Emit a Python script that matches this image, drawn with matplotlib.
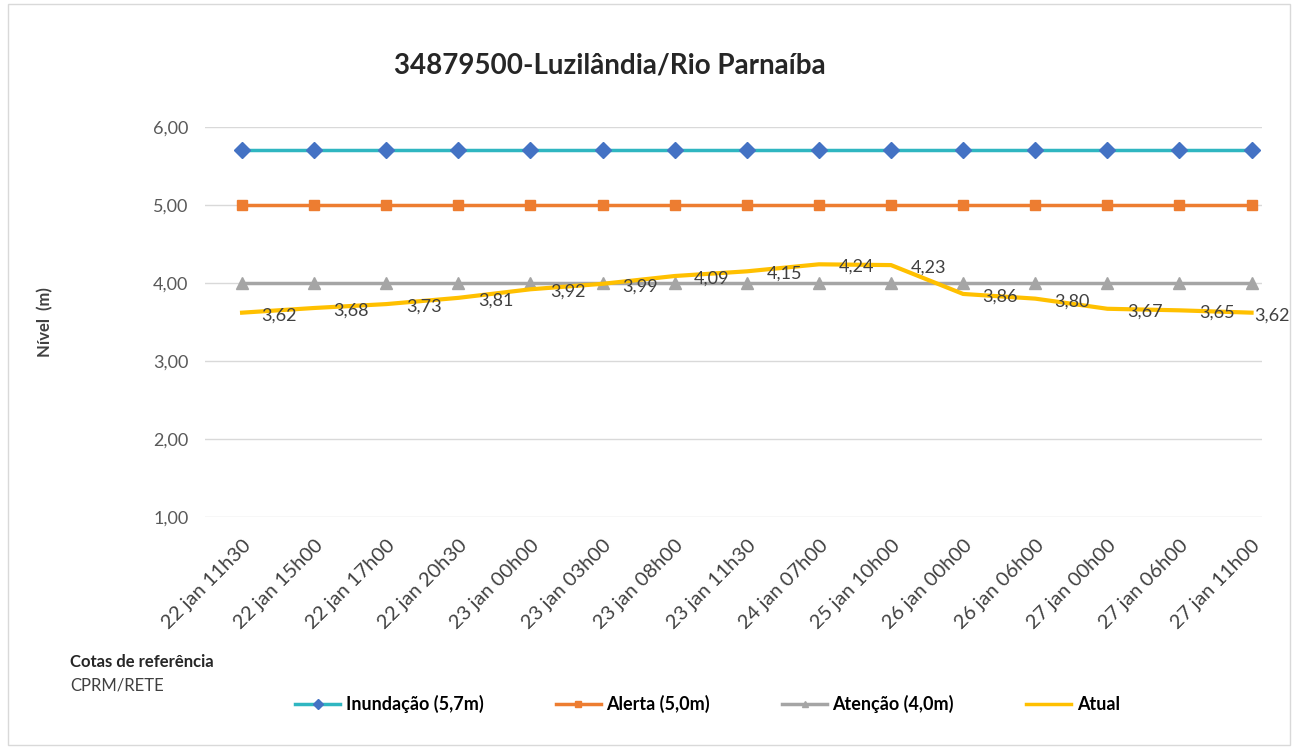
import matplotlib.pyplot as plt
from matplotlib.patches import Rectangle

plt.rcParams['font.family'] = ['Lato', 'DejaVu Sans']

# dados
datas = ['22 jan 11h30', '22 jan 15h00', '22 jan 17h00', '22 jan 20h30', '23 jan 00h00',
         '23 jan 03h00', '23 jan 08h00', '23 jan 11h30', '24 jan 07h00', '25 jan 10h00',
         '26 jan 00h00', '26 jan 06h00', '27 jan 00h00', '27 jan 06h00', '27 jan 11h00']
inundacao = [5.7] * 15
alerta = [5.0] * 15
atencao = [4.0] * 15
atual = [3.62, 3.68, 3.73, 3.81, 3.92, 3.99, 4.09, 4.15, 4.24, 4.23, 3.86, 3.80, 3.67, 3.65, 3.62]

fig = plt.figure(figsize=(12.98, 7.49), dpi=100)
ax = fig.add_axes([0.158, 0.3097, 0.814, 0.5207])
x = list(range(len(datas)))

ax.plot(x, inundacao, color='#2FB6C1', linewidth=2.5, marker='D', markersize=8,
        markerfacecolor='#4472C4', markeredgecolor='#4472C4', label='Inundação (5,7m)')
ax.plot(x, alerta, color='#ED7D31', linewidth=2.5, marker='s', markersize=7,
        markerfacecolor='#ED7D31', markeredgecolor='#ED7D31', label='Alerta (5,0m)')
ax.plot(x, atencao, color='#A5A5A5', linewidth=2.5, marker='^', markersize=8,
        markerfacecolor='#A5A5A5', markeredgecolor='#A5A5A5', label='Atenção (4,0m)')
ax.plot(x, atual, color='#FFC000', linewidth=3, label='Atual')

# rotulos dos valores (o ultimo fica encostado no ponto, como no original)
for xi, v in zip(x, atual):
    dx = 14 if xi < len(x) - 1 else 2
    ax.annotate(f'{v:.2f}'.replace('.', ','), (xi, v), xytext=(dx, -2), textcoords='offset points',
                ha='left', va='center', fontsize=13, color='#404040', annotation_clip=False)

ax.set_ylim(1, 6)
ax.set_xlim(-0.513, 14.14)
ax.set_yticks([1, 2, 3, 4, 5, 6])
ax.set_yticklabels([f'{t:.2f}'.replace('.', ',') for t in [1, 2, 3, 4, 5, 6]], fontsize=13, color='#595959')
ax.set_xticks(x)
ax.set_xticklabels(datas, rotation=45, ha='right', rotation_mode='anchor', fontsize=14.5, color='#404040')
ax.tick_params(axis='x', length=0, pad=14)
ax.tick_params(axis='y', length=0, pad=12)
ax.grid(axis='y', color='#D9D9D9', linewidth=1)
ax.set_axisbelow(True)
for s in ax.spines.values():
    s.set_visible(False)

ax.set_ylabel('Nível  (m)', fontsize=12, fontweight='bold', color='#404040', labelpad=72)

fig.text(0.47, 0.913, '34879500-Luzilândia/Rio Parnaíba', ha='center', va='center',
         fontsize=20, fontweight='bold', color='#262626')
fig.text(0.054, 0.116, 'Cotas de referência', fontsize=12, fontweight='bold', color='#262626', va='center')
fig.text(0.054, 0.085, 'CPRM/RETE', fontsize=12, color='#404040', va='center')

leg = fig.legend(loc='center', bbox_to_anchor=(0.545, 0.06), ncol=4, frameon=False,
                 prop={'weight': 'bold', 'size': 13}, columnspacing=4, handlelength=2.5, handletextpad=0.3)
for h in leg.legend_handles:
    h.set_markersize(5)
    h.set_linewidth(2.5)

fig.patches.append(Rectangle((0.006, 0.006), 0.988, 0.988, transform=fig.transFigure,
                             fill=False, edgecolor='#D9D9D9', linewidth=1))

plt.savefig('out.png', dpi=100)
